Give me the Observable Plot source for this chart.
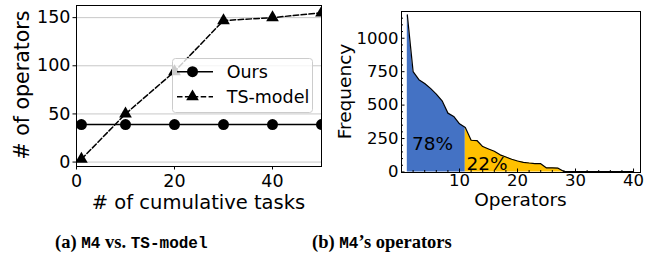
<!DOCTYPE html>
<html><head><meta charset="utf-8">
<script src="https://cdn.jsdelivr.net/npm/d3@7"></script>
<script src="https://cdn.jsdelivr.net/npm/@observablehq/plot@0.6"></script>
<style>
html,body{margin:0;padding:0;background:#fff;}
body{width:667px;height:262px;position:relative;overflow:hidden;font-family:"DejaVu Sans";}
#a,#b,#legend,#caps{position:absolute;}
#a{left:0;top:0;}
#b{left:335px;top:0;}
#legend{left:172px;top:58px;}
#caps{left:0;top:215px;}
svg{display:block;}
</style></head><body>
<div id="a"></div><div id="b"></div><div id="legend"></div><div id="caps"></div>
<script>
// ---- panel (a) data ----
const tasks = [1, 10, 20, 30, 40, 50];
const oursOps = [39, 39, 39, 39, 39, 39];
const tsModelOps = [3, 50, 94, 147, 150, 155];
const seriesNames = ["Ours", "TS-model"];
const leftXTicks = [0, 20, 40];
const leftYTicks = [0, 50, 100, 150];
const leftXLabel = "# of cumulative tasks";
const leftYLabel = "# of operators";

// ---- panel (b) data ----
const operatorRank = [1,2,3,4,5,6,7,8,9,10,11,12,13,14,15,16,17,18,19,20,21,22,23,24,25,26,27,28,29,30,31,32,33,34,35,36,37,38,39,40];
const frequency = [1175,750,690,662,625,582,532,440,415,360,332,237,235,190,172,155,128,112,95,82,72,67,63,62,30,30,28,3,3,3,3,3,3,3,3,3,3,3,3,3];
const splitRank = 11;
const shareLabels = ["78%", "22%"];
const shareX = [1.8, 11.2];
const shareY = [207, 61];
const rightXTicks = [10, 20, 30, 40];
const rightYTicks = [0, 250, 500, 750, 1000];
const rightXMinor = [2,4,6,8,12,14,16,18,22,24,26,28,32,34,36,38];
const rightYMinor = [50,100,150,200,300,350,400,450,550,600,650,700,800,850,900,950,1050,1100,1150];
const rightXLabel = "Operators";
const rightYLabel = "Frequency";

const captionA = ["(a) ", "M4", " vs. ", "TS-model"];
const captionB = ["(b) ", "M4", "\u2019s operators"];

// ---- panel (a) ----
const ours = tasks.map((t, i) => ({t, v: oursOps[i]}));
const ts = tasks.map((t, i) => ({t, v: tsModelOps[i]}));
const left = Plot.plot({
  width: 335, height: 215, marginLeft: 76, marginRight: 14, marginTop: 5, marginBottom: 49,
  style: {fontFamily: "DejaVu Sans", fontSize: "17.5px", color: "black", background: "white", overflow: "visible"},
  x: {domain: [0, 50], label: null},
  y: {domain: [-4.6, 162.6], label: null},
  marks: [
    Plot.gridY(leftYTicks, {stroke: "#c8c8c8", strokeOpacity: 1}),
    Plot.line(ours, {x: "t", y: "v", stroke: "black", strokeWidth: 1.5, clip: true}),
    Plot.line(ts, {x: "t", y: "v", stroke: "black", strokeWidth: 1.5, strokeDasharray: "5.5,2.4", clip: true}),
    Plot.dot(ours, {x: "t", y: "v", r: 5.5, fill: "black", clip: true}),
    Plot.dot(ts, {x: "t", y: "v", r: 4.7, symbol: "triangle", fill: "black", clip: true}),
    Plot.frame({stroke: "black"}),
    Plot.axisX(leftXTicks, {tickSize: 3.5, tickPadding: 5, fontSize: 17.5, label: null}),
    Plot.axisY(leftYTicks, {tickSize: 3.5, tickPadding: 2.5, fontSize: 17.5, label: null})
  ]
});
document.getElementById("a").appendChild(left);
const ls = d3.select(left);
ls.append("text").attr("x", 198.5).attr("y", 209).attr("text-anchor", "middle")
  .attr("font-size", 19.5).attr("fill", "black").text(leftXLabel);
ls.append("text").attr("transform", "translate(28.5,85) rotate(-90)").attr("text-anchor", "middle")
  .attr("font-size", 20.5).attr("fill", "black").text(leftYLabel);

// legend
const lg = d3.select("#legend").append("svg").attr("width", 141).attr("height", 55);
lg.append("rect").attr("x", 0.5).attr("y", 0.5).attr("width", 140).attr("height", 54).attr("rx", 3)
  .attr("fill", "white").attr("fill-opacity", 0.8).attr("stroke", "#cccccc");
const entryY = [13.7, 38.7];
seriesNames.forEach((name, i) => {
  const g = lg.append("g").attr("transform", `translate(0,${entryY[i]})`);
  g.append("line").attr("x1", 5).attr("x2", 41).attr("stroke", "black").attr("stroke-width", 1.5)
    .attr("stroke-dasharray", i === 1 ? "5.5,2.4" : null);
  if (i === 0) g.append("circle").attr("cx", 20.5).attr("r", 5.5).attr("fill", "black");
  else g.append("path").attr("transform", "translate(20.5,0)")
    .attr("d", d3.symbol(d3.symbolTriangle, Math.PI * 4.7 * 4.7)()).attr("fill", "black");
  g.append("text").attr("x", 54.7).attr("dy", "0.36em").attr("font-size", 17.5).attr("fill", "black").text(name);
});

// ---- panel (b) ----
const freq = operatorRank.map((r, i) => ({r, f: frequency[i]}));
const head = freq.filter(d => d.r <= splitRank);
const tail = freq.filter(d => d.r >= splitRank);
const shares = shareLabels.map((s, i) => ({s, x: shareX[i], y: shareY[i]}));
const fh = 215 - 11 - 43, fw = 332 - 66 - 27;
const right = Plot.plot({
  width: 332, height: 215, marginLeft: 66, marginRight: 27, marginTop: 11, marginBottom: 43,
  style: {fontFamily: "DejaVu Sans", fontSize: "16.5px", color: "black", background: "white", overflow: "visible"},
  x: {domain: [0, 41.2], label: null},
  y: {domain: [-4, 1200], label: null},
  marks: [
    Plot.areaY(head, {x: "r", y: "f", fill: "#4472C4"}),
    Plot.areaY(tail, {x: "r", y: "f", fill: "#FFC000"}),
    Plot.line(freq, {x: "r", y: "f", stroke: "black", strokeWidth: 1.2}),
    Plot.text(shares, {x: "x", y: "y", text: "s", textAnchor: "start", fontSize: 18.5, fill: "black"}),
    Plot.tickX(rightXTicks, {x: d => d, insetTop: fh - 3.5, stroke: "black"}),
    Plot.tickX(rightXMinor, {x: d => d, insetTop: fh - 2, stroke: "black"}),
    Plot.tickY(rightYTicks, {y: d => d, insetRight: fw - 3.5, stroke: "black"}),
    Plot.tickY(rightYMinor, {y: d => d, insetRight: fw - 2, stroke: "black"}),
    Plot.frame({stroke: "black"}),
    Plot.axisX(rightXTicks, {tickSize: 0, tickPadding: 2, fontSize: 16.5, label: null, tickFormat: "d"}),
    Plot.axisY(rightYTicks, {tickSize: 0, tickPadding: 3, fontSize: 16.5, label: null, tickFormat: "d"})
  ]
});
document.getElementById("b").appendChild(right);
const rs = d3.select(right);
rs.append("text").attr("x", 185.5).attr("y", 205.5).attr("text-anchor", "middle")
  .attr("font-size", 18.5).attr("fill", "black").text(rightXLabel);
rs.append("text").attr("transform", "translate(16,91.5) rotate(-90)").attr("text-anchor", "middle")
  .attr("font-size", 18.5).attr("fill", "black").text(rightYLabel);

// ---- captions ----
const cs = d3.select("#caps").append("svg").attr("width", 667).attr("height", 47);
function caption(parts, x) {
  const t = cs.append("text").attr("x", x).attr("y", 33).attr("font-family", "Liberation Serif")
    .attr("font-weight", "bold").attr("font-size", 18.5).attr("fill", "black").attr("xml:space", "preserve");
  parts.forEach((p) => {
    const sp = t.append("tspan").text(p);
    if (p === "M4" || p === "TS-model") sp.attr("font-family", "Liberation Mono").attr("font-size", 16);
  });
}
caption(captionA, 55);
caption(captionB, 312);
</script>
</body></html>
